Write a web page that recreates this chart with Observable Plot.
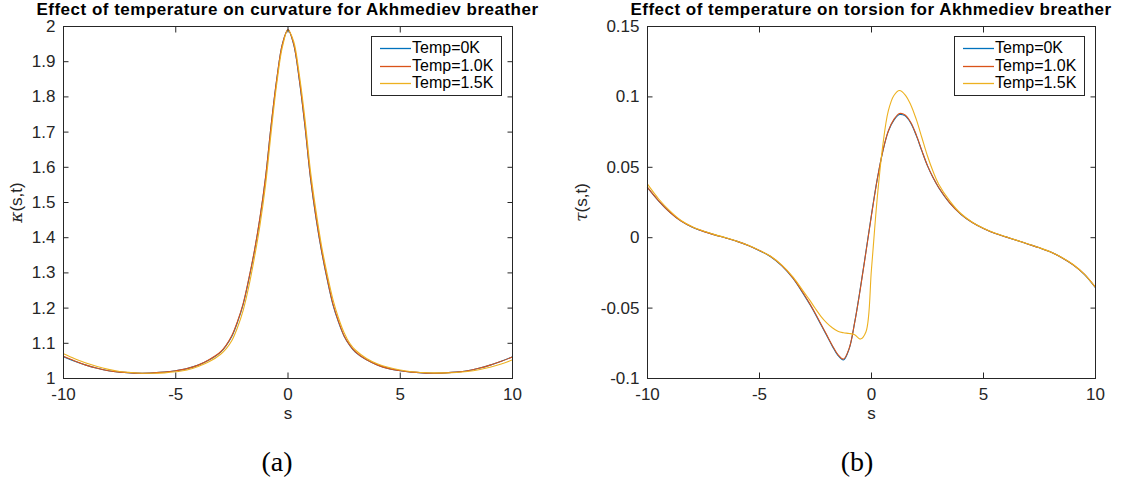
<!DOCTYPE html>
<html>
<head>
<meta charset="utf-8">
<script src="https://cdn.jsdelivr.net/npm/d3@7"></script>
<script src="https://cdn.jsdelivr.net/npm/@observablehq/plot@0.6"></script>
<style>
  body { margin: 0; background: #fff; }
  #wrap { position: relative; width: 1129px; height: 485px; overflow: hidden; background: #fff; }
  .panel { position: absolute; top: 0; }
  .title { position: absolute; top: 0px; font: bold 17px "Liberation Sans", Arial, sans-serif; letter-spacing: 0.5px; line-height: 20px; color: #000; white-space: nowrap; transform: translateX(-50%); }
  .cap { position: absolute; font: 28px "Liberation Serif", "DejaVu Serif", serif; color: #000; transform: translate(-50%, -50%); line-height: 30px; }
  .legend { position: absolute; width: 129px; height: 58px; border: 1px solid #262626; background: #fff; }
  .legend .row { position: absolute; left: 0; height: 16px; }
  .legend svg { position: absolute; left: 8px; top: 0; }
  .legend span { position: absolute; left: 40px; top: -1px; font: 16px "Liberation Sans", Arial, sans-serif; color: #000; line-height: 18px; white-space: nowrap; }
</style>
</head>
<body>
<div id="wrap"></div>
<script>
// ---------------- data ----------------
const seriesNames = ["Temp=0K", "Temp=1.0K", "Temp=1.5K"];
const seriesColors = ["#0072BD", "#D95319", "#EDB120"];

const sGrid = [-10,-9.5,-9,-8.5,-8,-7.5,-7,-6.5,-6,-5.5,-5,-4.5,-4,-3.5,
  -3,-2.75,-2.5,-2.25,-2,-1.75,-1.5,-1.25,-1,-0.75,-0.5,-0.25,0,
  0.25,0.5,0.75,1,1.25,1.5,1.75,2,2.25,2.5,2.75,3,
  3.5,4,4.5,5,5.5,6,6.5,7,7.5,8,8.5,9,9.5,10];

const kappa0K = [1.062,1.049,1.038,1.029,1.022,1.018,1.016,1.015,1.016,1.018,1.022,1.028,1.038,1.053,
  1.075,1.094,1.12,1.16,1.21,1.28,1.36,1.455,1.57,1.72,1.85,1.95,1.99,
  1.95,1.85,1.72,1.57,1.455,1.36,1.28,1.21,1.16,1.12,1.094,1.075,
  1.053,1.038,1.028,1.022,1.018,1.016,1.015,1.016,1.018,1.022,1.029,1.038,1.049,1.062];
const kappa1K = [1.063,1.050,1.038,1.029,1.022,1.018,1.016,1.015,1.016,1.018,1.022,1.028,1.038,1.054,
  1.076,1.095,1.122,1.162,1.212,1.282,1.362,1.457,1.572,1.72,1.851,1.95,1.991,
  1.951,1.852,1.722,1.572,1.457,1.362,1.282,1.212,1.162,1.121,1.095,1.076,
  1.053,1.038,1.028,1.022,1.018,1.016,1.015,1.016,1.018,1.022,1.029,1.038,1.049,1.061];
const kappa15K = [1.070,1.056,1.044,1.034,1.026,1.020,1.017,1.015,1.015,1.016,1.019,1.024,1.034,1.048,
  1.069,1.085,1.108,1.145,1.193,1.26,1.342,1.435,1.55,1.70,1.838,1.942,1.99,
  1.958,1.865,1.74,1.59,1.475,1.375,1.295,1.225,1.172,1.13,1.10,1.081,
  1.057,1.041,1.031,1.024,1.019,1.017,1.016,1.016,1.017,1.020,1.025,1.032,1.041,1.053];

const tau0K = [0.0355,0.026,0.018,0.0118,0.0075,0.0045,0.002,-0.0002,-0.0026,-0.0055,-0.0092,-0.0135,-0.020,-0.029,
  -0.041,-0.0475,-0.0545,-0.062,-0.0695,-0.077,-0.0835,-0.0868,-0.079,-0.060,-0.036,-0.010,0.0165,
  0.041,0.061,0.0755,0.0835,0.0875,0.0865,0.0815,0.0725,0.0615,0.051,0.0425,0.0355,
  0.0245,0.0165,0.0108,0.0066,0.0032,0.0006,-0.002,-0.0046,-0.0072,-0.0102,-0.0142,-0.0193,-0.026,-0.0355];
const tau1K = [0.0358,0.0262,0.0181,0.0119,0.0076,0.0045,0.002,-0.0002,-0.0026,-0.0055,-0.0091,-0.0134,-0.0198,-0.0287,
  -0.0405,-0.047,-0.054,-0.0615,-0.069,-0.0765,-0.083,-0.0862,-0.0788,-0.0602,-0.0365,-0.0105,0.016,
  0.0408,0.0612,0.0758,0.084,0.0882,0.0872,0.082,0.073,0.0618,0.0512,0.0427,0.0356,
  0.0246,0.0166,0.0108,0.0066,0.0032,0.0006,-0.002,-0.0046,-0.0072,-0.0102,-0.0142,-0.0192,-0.0259,-0.0353];
const tau15K = [0.038,0.0275,0.019,0.0122,0.0078,0.0047,0.0022,0.0,-0.0025,-0.0054,-0.009,-0.0132,-0.0195,-0.028,
  -0.039,-0.0445,-0.0505,-0.056,-0.0605,-0.064,-0.0665,-0.0675,-0.068,-0.069,-0.072,-0.067,-0.022,
  0.027,0.065,0.090,0.101,0.1045,0.1015,0.0945,0.084,0.071,0.058,0.047,0.038,
  0.026,0.017,0.011,0.0067,0.0033,0.0007,-0.0019,-0.0045,-0.0071,-0.0101,-0.014,-0.019,-0.0258,-0.0352];

const xTicks = [-10, -5, 0, 5, 10];
const xTickLabels = ["-10", "-5", "0", "5", "10"];
const kappaTicks = [1, 1.1, 1.2, 1.3, 1.4, 1.5, 1.6, 1.7, 1.8, 1.9, 2];
const kappaTickLabels = ["1", "1.1", "1.2", "1.3", "1.4", "1.5", "1.6", "1.7", "1.8", "1.9", "2"];
const tauTicks = [-0.1, -0.05, 0, 0.05, 0.1, 0.15];
const tauTickLabels = ["-0.1", "-0.05", "0", "0.05", "0.1", "0.15"];

const titles = ["Effect of temperature on curvature for Akhmediev breather",
                "Effect of temperature on torsion for Akhmediev breather"];
const captions = ["(a)", "(b)"];

// ---------------- build ----------------
function tidy(arrays) {
  const out = [];
  arrays.forEach((arr, k) => arr.forEach((v, i) => out.push({s: sGrid[i], v, series: seriesNames[k]})));
  return out;
}
function fmt(ticks, labels) {
  const m = new Map(ticks.map((t, i) => [t, labels[i]]));
  return d => m.has(d) ? m.get(d) : "";
}
const AX = "#262626";
const TS = -5.5;
const FS = 17;

function panel({data, yDomain, yTicks, yLabels, yLabel, width, ml, mr}) {
  return Plot.plot({
    width, height: 440,
    marginLeft: ml, marginRight: mr, marginTop: 26, marginBottom: 62,
    style: {fontFamily: '"Liberation Sans", Arial, sans-serif', fontSize: "17px", color: AX, background: "transparent", overflow: "visible"},
    x: {domain: [-10, 10]},
    y: {domain: yDomain},
    color: {domain: seriesNames, range: seriesColors},
    marks: [
      Plot.line(data, {x: "s", y: "v", stroke: "series", z: "series", strokeWidth: 1.1, curve: "catmull-rom"}),
      Plot.frame({stroke: AX, strokeWidth: 1}),
      Plot.axisX(xTicks, {anchor: "bottom", tickSize: TS, tickPadding: 15, fontSize: FS, tickFormat: fmt(xTicks, xTickLabels), stroke: AX, fill: AX,
        label: "s", labelAnchor: "center", labelOffset: 40, labelArrow: "none"}),
      Plot.axisX(xTicks, {anchor: "top", tickSize: TS, tickFormat: () => "", stroke: AX, label: null}),
      Plot.axisY(yTicks, {anchor: "left", tickSize: TS, tickPadding: 13.5, fontSize: FS, tickFormat: fmt(yTicks, yLabels), stroke: AX, fill: AX,
        label: yLabel, labelAnchor: "center", labelOffset: ml - 9, labelArrow: "none"}),
      Plot.axisY(yTicks, {anchor: "right", tickSize: TS, tickFormat: () => "", stroke: AX, label: null})
    ]
  });
}

const wrap = document.getElementById("wrap");
const defs = [
  {data: tidy([kappa0K, kappa1K, kappa15K]), yDomain: [1, 2], yTicks: kappaTicks, yLabels: kappaTickLabels, yLabel: "κ(s,t)", width: 565, ml: 63, mr: 53, left: 0, greek: "κ", cap: 277},
  {data: tidy([tau0K, tau1K, tau15K]), yDomain: [-0.1, 0.15], yTicks: tauTicks, yLabels: tauTickLabels, yLabel: "τ(s,t)", width: 564, ml: 82, mr: 34, left: 565, greek: "τ", cap: 857}
];
defs.forEach((d, idx) => {
  const svg = panel(d);
  const holder = document.createElement("div");
  holder.className = "panel";
  holder.style.left = d.left + "px";
  holder.appendChild(svg);
  wrap.appendChild(holder);
  // greek letter in italic serif, like the TeX label
  svg.querySelectorAll("text").forEach(t => {
    if (t.textContent === d.yLabel) {
      t.textContent = "";
      const ns = "http://www.w3.org/2000/svg";
      const g = document.createElementNS(ns, "tspan");
      g.setAttribute("font-family", '"DejaVu Serif", "Liberation Serif", serif');
      g.setAttribute("font-style", "italic");
      g.textContent = d.greek;
      const r = document.createElementNS(ns, "tspan");
      r.textContent = "(s,t)";
      t.appendChild(g); t.appendChild(r);
    }
  });
  const plotCenter = d.left + d.ml + (d.width - d.ml - d.mr) / 2;
  const title = document.createElement("div");
  title.className = "title";
  title.style.left = plotCenter + "px";
  title.textContent = titles[idx];
  wrap.appendChild(title);

  const legend = document.createElement("div");
  legend.className = "legend";
  const legRight = d.left + d.width - d.mr - 10;
  legend.style.left = (legRight - 131) + "px";
  legend.style.top = "36px";
  [3, 21, 38].forEach((ry, k) => {
    const row = document.createElement("div");
    row.className = "row";
    row.style.top = ry + "px";
    row.style.width = "129px";
    row.innerHTML = `<svg width="32" height="16"><line x1="0" x2="31" y1="8.5" y2="8.5" stroke="${seriesColors[k]}" stroke-width="1.3"/></svg><span>${seriesNames[k]}</span>`;
    legend.appendChild(row);
  });
  wrap.appendChild(legend);

  const cap = document.createElement("div");
  cap.className = "cap";
  cap.style.left = d.cap + "px";
  cap.style.top = "462px";
  cap.textContent = captions[idx];
  wrap.appendChild(cap);
});
</script>
</body>
</html>
